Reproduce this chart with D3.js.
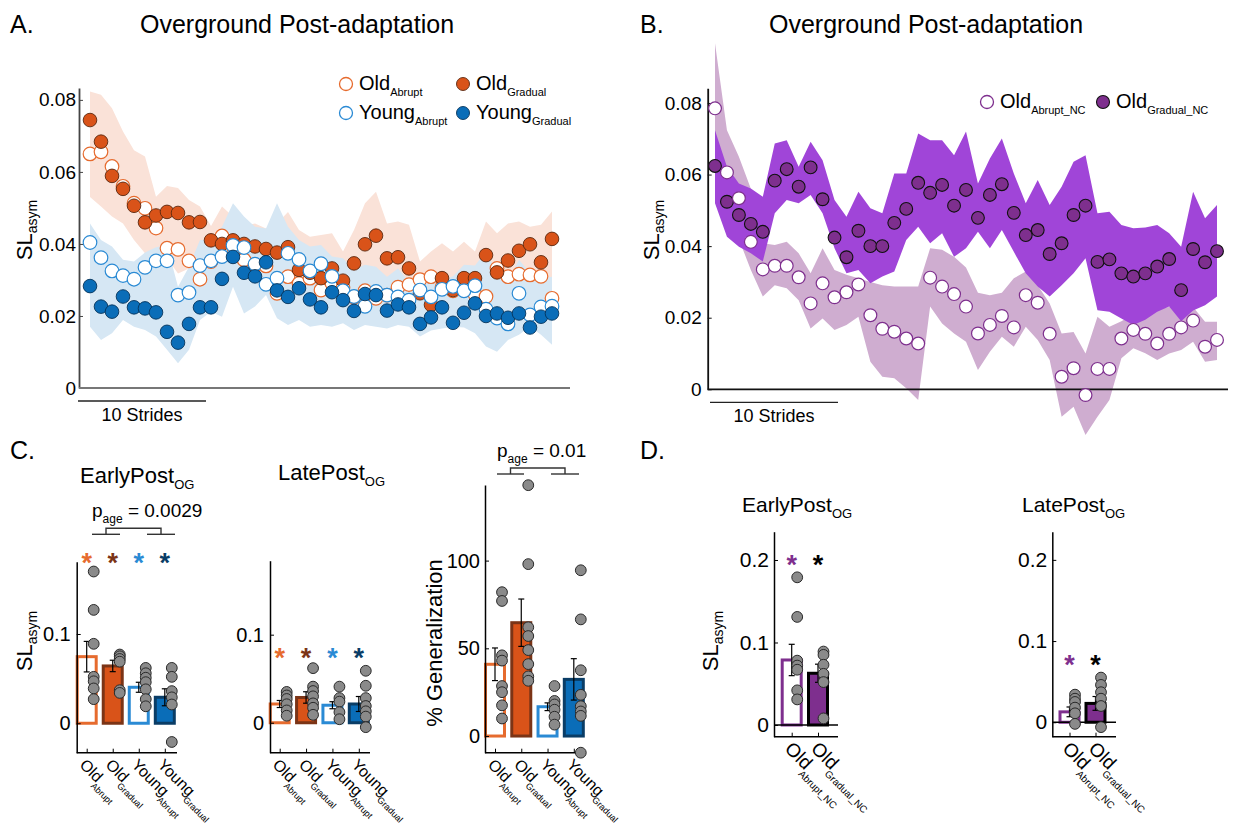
<!DOCTYPE html>
<html>
<head>
<meta charset="utf-8">
<script src="https://cdn.jsdelivr.net/npm/d3@7.9.0/dist/d3.min.js"></script>
<style>
  body { margin: 0; background: #fff; }
  svg { font-family: "Liberation Sans", Arial, sans-serif; }
</style>
</head>
<body>
<svg id="fig" width="1235" height="827"></svg>
<script>
// ---- Panel A: stride-by-stride SL asym, old/young x abrupt/gradual
const oldAbrupt = [0.065, 0.0656, 0.0615, 0.056, 0.0513, 0.0499, 0.0444, 0.0388, 0.0385, 0.0353, 0.0302, 0.0351, 0.0422, 0.037, 0.0356, 0.034, 0.0339, 0.0263, 0.0309, 0.029, 0.0305, 0.0272, 0.029, 0.028, 0.0252, 0.027, 0.0249, 0.0258, 0.028, 0.0287, 0.0301, 0.0309, 0.028, 0.027, 0.0275, 0.026, 0.0254, 0.0332, 0.0309, 0.0316, 0.0314, 0.031, 0.0249];
const oldGradual = [0.0744, 0.0684, 0.0589, 0.0553, 0.0506, 0.046, 0.0479, 0.0489, 0.0486, 0.046, 0.0461, 0.041, 0.040, 0.041, 0.040, 0.0393, 0.0386, 0.0376, 0.0391, 0.0328, 0.032, 0.0305, 0.0332, 0.0298, 0.0346, 0.0399, 0.0423, 0.036, 0.0363, 0.0332, 0.0263, 0.0231, 0.0305, 0.0272, 0.0305, 0.0305, 0.0369, 0.0321, 0.0354, 0.0381, 0.0399, 0.0349, 0.0414];
const youngAbrupt = [0.0404, 0.0362, 0.0325, 0.0312, 0.0302, 0.0335, 0.0353, 0.0353, 0.0258, 0.0265, 0.034, 0.0353, 0.0365, 0.0396, 0.039, 0.0344, 0.0288, 0.0305, 0.0374, 0.0357, 0.0325, 0.0345, 0.031, 0.027, 0.0254, 0.0227, 0.0268, 0.0258, 0.0253, 0.0244, 0.0272, 0.0253, 0.0274, 0.0282, 0.027, 0.0284, 0.0219, 0.0194, 0.0178, 0.0263, 0.0203, 0.0225, 0.0227];
const youngGradual = [0.0283, 0.0226, 0.0212, 0.0254, 0.0224, 0.0221, 0.021, 0.0156, 0.0126, 0.0178, 0.0224, 0.0224, 0.0303, 0.0364, 0.032, 0.031, 0.0349, 0.0271, 0.0253, 0.0277, 0.0246, 0.0224, 0.0266, 0.0244, 0.0214, 0.0261, 0.0258, 0.0215, 0.0232, 0.0224, 0.0178, 0.0196, 0.0224, 0.0181, 0.0209, 0.0235, 0.02, 0.0207, 0.0195, 0.0207, 0.0168, 0.0198, 0.0207];
const oldBandHi = [0.0823, 0.0814, 0.0777, 0.0712, 0.066, 0.0643, 0.0531, 0.0561, 0.0555, 0.0522, 0.0504, 0.045, 0.0504, 0.0476, 0.045, 0.0457, 0.0443, 0.0457, 0.0489, 0.0439, 0.042, 0.0425, 0.043, 0.0379, 0.0439, 0.0513, 0.0545, 0.0457, 0.0462, 0.0453, 0.0351, 0.0379, 0.0402, 0.0379, 0.0406, 0.0379, 0.0462, 0.043, 0.0457, 0.0462, 0.0448, 0.0453, 0.049];
const oldBandLo = [0.053, 0.0504, 0.0476, 0.0457, 0.0411, 0.0374, 0.037, 0.036, 0.0318, 0.0332, 0.0346, 0.034, 0.035, 0.034, 0.033, 0.032, 0.031, 0.03, 0.031, 0.029, 0.028, 0.027, 0.028, 0.026, 0.027, 0.029, 0.03, 0.028, 0.028, 0.027, 0.024, 0.023, 0.026, 0.025, 0.026, 0.026, 0.028, 0.027, 0.028, 0.029, 0.029, 0.028, 0.03];
const youngBandHi = [0.0457, 0.0411, 0.0393, 0.0356, 0.0351, 0.0376, 0.0391, 0.0397, 0.0281, 0.0337, 0.0411, 0.0411, 0.0448, 0.0513, 0.0476, 0.0448, 0.0443, 0.0513, 0.0448, 0.0411, 0.0393, 0.0397, 0.0365, 0.036, 0.0328, 0.0342, 0.0337, 0.0309, 0.0332, 0.0295, 0.0291, 0.0295, 0.03, 0.031, 0.0342, 0.034, 0.0379, 0.0319, 0.03, 0.0356, 0.0319, 0.0305, 0.0309];
const youngBandLo = [0.017, 0.0133, 0.0152, 0.0189, 0.017, 0.0161, 0.0143, 0.0106, 0.0069, 0.0106, 0.0189, 0.0212, 0.0198, 0.0281, 0.0207, 0.0226, 0.0258, 0.0194, 0.0175, 0.0189, 0.017, 0.0175, 0.017, 0.018, 0.0161, 0.0175, 0.017, 0.0165, 0.0175, 0.017, 0.0143, 0.016, 0.0165, 0.017, 0.0168, 0.0152, 0.0115, 0.0101, 0.0133, 0.0148, 0.017, 0.0148, 0.012];

// ---- Panel B: old adults, no catch
const ncAbrupt = [0.0785, 0.0606, 0.0534, 0.0412, 0.0335, 0.0345, 0.0345, 0.0313, 0.024, 0.0296, 0.0257, 0.0271, 0.0293, 0.0207, 0.0169, 0.0161, 0.0142, 0.0128, 0.0312, 0.0287, 0.0266, 0.0231, 0.0156, 0.018, 0.0205, 0.0173, 0.0263, 0.0242, 0.0155, 0.0035, 0.0059, -0.0016, 0.0057, 0.0057, 0.0142, 0.0166, 0.0155, 0.0128, 0.0155, 0.0173, 0.0192, 0.0119, 0.0138];
const ncGradual = [0.0624, 0.0524, 0.0487, 0.0462, 0.044, 0.0583, 0.0615, 0.0566, 0.062, 0.0531, 0.0424, 0.0369, 0.0443, 0.04, 0.04, 0.0465, 0.0504, 0.0577, 0.0549, 0.0571, 0.0513, 0.0557, 0.0479, 0.0543, 0.0573, 0.0493, 0.0431, 0.0445, 0.0378, 0.0408, 0.0487, 0.0513, 0.0356, 0.0363, 0.0324, 0.0315, 0.0324, 0.0343, 0.0364, 0.0277, 0.0392, 0.0355, 0.0386];
const ncAbrBandHi = [0.0967, 0.0724, 0.065, 0.056, 0.0408, 0.0403, 0.0412, 0.038, 0.0324, 0.0394, 0.0333, 0.032, 0.031, 0.030, 0.0291, 0.0287, 0.0287, 0.0287, 0.0394, 0.039, 0.037, 0.034, 0.027, 0.0263, 0.027, 0.031, 0.0329, 0.0291, 0.024, 0.0156, 0.016, 0.01, 0.0203, 0.0175, 0.019, 0.021, 0.022, 0.0225, 0.023, 0.023, 0.023, 0.0189, 0.0189];
const ncAbrBandLo = [0.06, 0.05, 0.042, 0.0333, 0.0259, 0.0291, 0.0282, 0.0249, 0.017, 0.0198, 0.0166, 0.018, 0.0203, 0.0077, 0.0035, 0.0031, 0.0003, -0.003, 0.0231, 0.0184, 0.0156, 0.0133, 0.0054, 0.0105, 0.0147, 0.0119, 0.0175, 0.0138, 0.0082, -0.0077, -0.0049, -0.0128, -0.0077, -0.003, 0.0087, 0.0115, 0.0101, 0.0082, 0.01, 0.011, 0.0133, 0.0077, 0.0082];
const ncGradBandHi = [0.0724, 0.0622, 0.0575, 0.0561, 0.0538, 0.0687, 0.0696, 0.0622, 0.0692, 0.064, 0.0529, 0.0482, 0.0552, 0.0506, 0.0492, 0.0603, 0.0603, 0.0715, 0.0696, 0.0696, 0.0654, 0.072, 0.0575, 0.0645, 0.0701, 0.0603, 0.052, 0.0585, 0.0515, 0.0566, 0.0636, 0.0654, 0.0492, 0.0496, 0.0459, 0.045, 0.0452, 0.0459, 0.0436, 0.0398, 0.0552, 0.0478, 0.0515];
const ncGradBandLo = [0.052, 0.0426, 0.0398, 0.038, 0.0357, 0.0492, 0.0529, 0.052, 0.0543, 0.0492, 0.0394, 0.0324, 0.0333, 0.0296, 0.0315, 0.0329, 0.0417, 0.0454, 0.0408, 0.0436, 0.037, 0.0394, 0.044, 0.0394, 0.0445, 0.0384, 0.0324, 0.0287, 0.0259, 0.0291, 0.0324, 0.0366, 0.0221, 0.0217, 0.0198, 0.018, 0.0194, 0.0217, 0.0231, 0.019, 0.022, 0.0235, 0.0259];

// ---- Panel C: group bars
const groupNames = ["Old", "Old", "Young", "Young"];
const groupSubs = ["Abrupt", "Gradual", "Abrupt", "Gradual"];
const earlyMeans = [0.0746, 0.0642, 0.0403, 0.0291];
const earlySE = [0.0171, 0.0064, 0.0056, 0.0095];
const earlyDots = [
  [0.170, 0.127, 0.089, 0.052, 0.047, 0.039, 0.027],
  [0.077, 0.075, 0.072, 0.069, 0.037, 0.034],
  [0.062, 0.056, 0.051, 0.046, 0.038, 0.027, 0.019],
  [0.062, 0.052, 0.036, 0.029, 0.021, -0.021]
];
const lateMeans = [0.0213, 0.0287, 0.0199, 0.0213];
const lateSE = [0.004, 0.0065, 0.004, 0.0085];
const lateDots = [
  [0.035, 0.031, 0.027, 0.021, 0.014, 0.008],
  [0.062, 0.041, 0.036, 0.030, 0.022, 0.017, 0.009],
  [0.041, 0.028, 0.024, 0.012, 0.004],
  [0.059, 0.042, 0.028, 0.019, 0.013, 0.007, -0.005]
];
const genMeans = [40.9, 64.6, 16.7, 32.3];
const genSE = [9.3, 13.5, 2.2, 11.8];
const genDots = [
  [82, 77, 46, 43, 28.5, 25, 17.5, 10],
  [143, 98, 62, 57, 49, 41, 34, 31.5],
  [28.5, 20, 18, 15, 11, 6.5],
  [94.5, 66.5, 37.5, 23.5, 17, 14, 11.5, -9.5]
];

// ---- Panel D: no-catch bars
const ncNames = ["Old", "Old"];
const ncSubs = ["Abrupt_NC", "Gradual_NC"];
const ncEarlyMeans = [0.0788, 0.0627];
const ncEarlySE = [0.019, 0.011];
const ncEarlyDots = [
  [0.179, 0.131, 0.078, 0.072, 0.067, 0.042, 0.031],
  [0.089, 0.085, 0.073, 0.062, 0.052, 0.008]
];
const ncLateMeans = [0.0128, 0.0232];
const ncLateSE = [0.006, 0.0085];
const ncLateDots = [
  [0.034, 0.029, 0.025, 0.018, 0.011, -0.002],
  [0.055, 0.046, 0.037, 0.029, 0.02, -0.006]
];

// colours
const cOrange = "#e66b2e", cOrangeFill = "#d95319", cBrown = "#7b3416";
const cBlue = "#2a8ad4", cBlueFill = "#0a6db8", cNavy = "#0a3d66";
const cPurple = "#7e2f8e";
const groupStroke = [cOrange, cBrown, cBlue, cNavy];
const groupFill = ["#fff", cOrangeFill, "#fff", cBlueFill];

const svg = d3.select("#fig");

// text with a subscript part
function subText(g, x, y, main, sub, size, subSize, opt = {}) {
  const t = g.append("text")
    .attr("x", x).attr("y", y)
    .attr("font-size", size)
    .attr("fill", opt.fill || "#000");
  if (opt.anchor) t.attr("text-anchor", opt.anchor);
  if (opt.transform) t.attr("transform", opt.transform);
  t.append("tspan").text(main);
  t.append("tspan")
    .attr("font-size", subSize)
    .attr("dx", opt.subDx || 0)
    .attr("dy", opt.subDy != null ? opt.subDy : size * 0.3)
    .text(sub);
  return t;
}

function styleAxis(a, size) {
  a.attr("font-family", null).attr("font-size", size);
  a.selectAll("text").attr("fill", "#000");
}

// ---------- time-course panels ----------
function timePanel(cfg) {
  const g = svg.append("g");
  const n = cfg.series[0].values.length;
  const x = d3.scaleLinear().domain([0, n - 1]).range(cfg.xRange);
  const y = d3.scaleLinear().domain(cfg.yDomain).range(cfg.yRange);

  cfg.bands.forEach(b => {
    const area = d3.area()
      .x((d, i) => x(i))
      .y0((d, i) => y(b.lo[i]))
      .y1(d => y(d));
    g.append("path").datum(b.hi).attr("d", area).attr("fill", b.color);
  });

  const ax = g.append("g")
    .attr("transform", `translate(${cfg.axisX},0)`)
    .call(d3.axisLeft(y).tickValues([0, 0.02, 0.04, 0.06, 0.08])
      .tickFormat(d => String(d)).tickSize(-4).tickSizeOuter(0).tickPadding(cfg.pad));
  styleAxis(ax, 19);
  ax.select(".domain").attr("stroke", cfg.yAxisColor).attr("stroke-width", 1.8);
  ax.selectAll(".tick line").attr("stroke", cfg.yAxisColor);

  g.append("line")
    .attr("x1", cfg.axisX).attr("x2", cfg.xEnd)
    .attr("y1", y(0)).attr("y2", y(0))
    .attr("stroke", cfg.xAxisColor).attr("stroke-width", 1.8);

  // scale bar
  g.append("line")
    .attr("x1", cfg.bar[0]).attr("x2", cfg.bar[1])
    .attr("y1", y(0) + 13).attr("y2", y(0) + 13)
    .attr("stroke", "#222").attr("stroke-width", 1.3);
  g.append("text")
    .attr("x", (cfg.bar[0] + cfg.bar[1]) / 2).attr("y", y(0) + 33)
    .attr("text-anchor", "middle").attr("font-size", 18)
    .text("10 Strides");

  subText(g, 0, 0, "SL", "asym", 22, 14, {
    anchor: "middle", transform: `translate(${cfg.labelX},${cfg.labelY}) rotate(-90)`, subDy: 5
  });

  cfg.series.forEach(s => {
    g.append("g").selectAll("circle")
      .data(s.values)
      .join("circle")
      .attr("cx", (d, i) => x(i))
      .attr("cy", d => y(d))
      .attr("r", cfg.r)
      .attr("fill", s.fill)
      .attr("stroke", s.stroke)
      .attr("stroke-width", s.sw);
  });

  // legend
  cfg.legend.forEach(l => {
    g.append("circle").attr("cx", l.cx).attr("cy", l.cy).attr("r", 6.5)
      .attr("fill", l.fill).attr("stroke", l.stroke).attr("stroke-width", l.sw);
    subText(g, l.cx + 13, l.cy + 6, l.main, l.sub, 20, 11, { subDy: 6 });
  });
}

timePanel({
  xRange: [90, 552], yDomain: [0, 0.0833], yRange: [388, 88],
  axisX: 79, xEnd: 570, pad: 3, yAxisColor: "#444", xAxisColor: "#777",
  bar: [78, 206], labelX: 32, labelY: 230, r: 6.8,
  bands: [
    { hi: oldBandHi, lo: oldBandLo, color: "#fae2d8" },
    { hi: youngBandHi, lo: youngBandLo, color: "#d6e7f4" }
  ],
  series: [
    { values: oldAbrupt, fill: "#fff", stroke: cOrange, sw: 1.2 },
    { values: oldGradual, fill: cOrangeFill, stroke: "#5a2810", sw: 0.9 },
    { values: youngAbrupt, fill: "#fff", stroke: cBlue, sw: 1.2 },
    { values: youngGradual, fill: cBlueFill, stroke: "#06335a", sw: 0.9 }
  ],
  legend: [
    { cx: 346, cy: 84, fill: "#fff", stroke: cOrange, sw: 1.3, main: "Old", sub: "Abrupt" },
    { cx: 463, cy: 84, fill: cOrangeFill, stroke: "#5a2810", sw: 0.9, main: "Old", sub: "Gradual" },
    { cx: 346, cy: 113, fill: "#fff", stroke: cBlue, sw: 1.3, main: "Young", sub: "Abrupt" },
    { cx: 463, cy: 113, fill: cBlueFill, stroke: "#06335a", sw: 0.9, main: "Young", sub: "Gradual" }
  ]
});

timePanel({
  xRange: [715, 1217], yDomain: [0, 0.0841], yRange: [389.3, 88.3],
  axisX: 707.7, xEnd: 1228, pad: 6, yAxisColor: "#111", xAxisColor: "#111",
  bar: [710, 838], labelX: 659, labelY: 230, r: 6.4,
  bands: [
    { hi: ncAbrBandHi, lo: ncAbrBandLo, color: "#cfadd0" },
    { hi: ncGradBandHi, lo: ncGradBandLo, color: "#a045d8" }
  ],
  series: [
    { values: ncGradual, fill: cPurple, stroke: "#111", sw: 1.1 },
    { values: ncAbrupt, fill: "#fff", stroke: cPurple, sw: 1.2 }
  ],
  legend: [
    { cx: 987, cy: 102, fill: "#fff", stroke: cPurple, sw: 1.3, main: "Old", sub: "Abrupt_NC" },
    { cx: 1103, cy: 102, fill: cPurple, stroke: "#111", sw: 1.1, main: "Old", sub: "Gradual_NC" }
  ]
});

// ---------- bar panels ----------
function barPanel(cfg) {
  const g = svg.append("g");
  const idx = d3.range(cfg.means.length);
  const x = d3.scalePoint().domain(idx).range(cfg.xRange);
  const y = d3.scaleLinear().domain(cfg.yDomain).range(cfg.yRange);
  const y0 = cfg.yRange[0];

  // bars
  g.selectAll("rect.bar").data(cfg.means).join("rect")
    .attr("x", (d, i) => x(i) - cfg.bw / 2)
    .attr("y", d => y(Math.max(0, d)))
    .attr("width", cfg.bw)
    .attr("height", d => Math.abs(y(d) - y(0)))
    .attr("fill", (d, i) => cfg.fills[i])
    .attr("stroke", (d, i) => cfg.strokes[i])
    .attr("stroke-width", 3);

  if (cfg.zeroLine) {
    g.append("line")
      .attr("x1", cfg.axisX).attr("x2", cfg.xEnd)
      .attr("y1", y(0)).attr("y2", y(0))
      .attr("stroke", "#000").attr("stroke-width", 1.5);
  }

  // axes
  const ax = g.append("g")
    .attr("transform", `translate(${cfg.axisX},0)`)
    .call(d3.axisLeft(y).tickValues(cfg.ticks).tickFormat(d => String(d))
      .tickSize(-4).tickSizeOuter(0).tickPadding(cfg.pad));
  styleAxis(ax, cfg.tickFont);
  ax.select(".domain").attr("stroke", "#000").attr("stroke-width", 1.5);
  ax.selectAll(".tick line").attr("stroke", "#000");

  g.append("line")
    .attr("x1", cfg.axisX).attr("x2", cfg.xEnd)
    .attr("y1", y0).attr("y2", y0)
    .attr("stroke", "#000").attr("stroke-width", 1.5);
  g.append("g")
    .attr("transform", `translate(0,${y0})`)
    .call(d3.axisBottom(x).tickSize(-4).tickSizeOuter(0).tickFormat(""))
    .call(a => a.select(".domain").remove())
    .call(a => a.selectAll(".tick line").attr("stroke", "#000"));

  // error bars
  const eb = g.append("g").attr("stroke", "#000").attr("stroke-width", 1.2);
  cfg.means.forEach((m, i) => {
    const cx = x(i);
    eb.append("line").attr("x1", cx).attr("x2", cx).attr("y1", y(m - cfg.se[i])).attr("y2", y(m + cfg.se[i]));
    eb.append("line").attr("x1", cx - 3).attr("x2", cx + 3).attr("y1", y(m - cfg.se[i])).attr("y2", y(m - cfg.se[i]));
    eb.append("line").attr("x1", cx - 3).attr("x2", cx + 3).attr("y1", y(m + cfg.se[i])).attr("y2", y(m + cfg.se[i]));
  });

  // individual subjects
  cfg.dots.forEach((vals, i) => {
    g.append("g").selectAll("circle").data(vals).join("circle")
      .attr("cx", x(i) + cfg.dotDx)
      .attr("cy", d => y(d))
      .attr("r", 5.4)
      .attr("fill", "#8a8a8a")
      .attr("stroke", "#2a2a2a")
      .attr("stroke-width", 1);
  });

  // significance stars
  if (cfg.starLevel != null) {
    cfg.means.forEach((m, i) => {
      g.append("text")
        .attr("x", x(i)).attr("y", y(cfg.starLevel) + 15)
        .attr("text-anchor", "middle")
        .attr("font-size", 27).attr("font-weight", "bold")
        .attr("fill", cfg.starColors[i])
        .text("*");
    });
  }

  // rotated category labels
  cfg.names.forEach((nm, i) => {
    subText(g, 0, 0, nm, cfg.subs[i], cfg.labFont, cfg.subFont, {
      transform: `translate(${x(i) - 8},${y0 + 13}) rotate(45)`,
      subDx: -2, subDy: cfg.labFont * 0.4
    });
  });

  if (cfg.title) {
    subText(g, cfg.title.x, cfg.title.y, cfg.title.main, "OG", cfg.title.size, 13, { subDy: 6 });
  }
  if (cfg.ylabel) {
    const t = g.append("text").attr("font-size", 22).attr("text-anchor", "middle")
      .attr("transform", `translate(${cfg.ylabel.x},${cfg.ylabel.y}) rotate(-90)`);
    t.append("tspan").text(cfg.ylabel.main);
    if (cfg.ylabel.sub) t.append("tspan").attr("font-size", 14).attr("dy", 5).text(cfg.ylabel.sub);
  }
  if (cfg.stat) {
    const s = cfg.stat;
    subText(g, s.x, s.y, "p", "age", 19, 12, { subDy: 6 })
      .append("tspan").attr("font-size", 19).attr("dy", -6).text(" = " + s.p);
    const br = g.append("g").attr("stroke", "#333").attr("stroke-width", 1.4).attr("fill", "none");
    const [a, b] = s.segs;
    br.append("line").attr("x1", a[0]).attr("x2", a[1]).attr("y1", s.by).attr("y2", s.by);
    br.append("line").attr("x1", b[0]).attr("x2", b[1]).attr("y1", s.by).attr("y2", s.by);
    const m1 = (a[0] + a[1]) / 2, m2 = (b[0] + b[1]) / 2;
    br.append("path").attr("d", `M${m1},${s.by} V${s.by - 6} H${m2} V${s.by}`);
  }
}

barPanel({
  means: earlyMeans, se: earlySE, dots: earlyDots,
  xRange: [86.7, 164.8], yDomain: [-0.033, 0.181], yRange: [752.7, 561.7],
  axisX: 76.7, xEnd: 177, ticks: [0, 0.1], pad: 6, tickFont: 20,
  bw: 19, dotDx: 7, fills: groupFill, strokes: groupStroke,
  starLevel: 0.1866, starColors: groupStroke,
  names: groupNames, subs: groupSubs, labFont: 16, subFont: 9,
  title: { x: 80, y: 483, main: "EarlyPost", size: 22 },
  ylabel: { x: 32, y: 641, main: "SL", sub: "asym" },
  stat: { x: 92, y: 517, p: "0.0029", by: 534.3, segs: [[92, 120], [147, 175]] }
});

barPanel({
  means: lateMeans, se: lateSE, dots: lateDots,
  xRange: [279.7, 358.8], yDomain: [-0.034, 0.184], yRange: [752.7, 560.7],
  axisX: 270, xEnd: 370, ticks: [0, 0.1], pad: 6, tickFont: 20,
  bw: 19, dotDx: 7, fills: groupFill, strokes: groupStroke,
  starLevel: 0.08, starColors: groupStroke,
  names: groupNames, subs: groupSubs, labFont: 16, subFont: 9,
  title: { x: 278, y: 480, main: "LatePost", size: 22 }
});

barPanel({
  means: genMeans, se: genSE, dots: genDots,
  xRange: [495, 573.8], yDomain: [-9.5, 143.1], yRange: [752.7, 485],
  axisX: 485, xEnd: 586, ticks: [0, 50, 100], pad: 5, tickFont: 20,
  bw: 19, dotDx: 7, fills: groupFill, strokes: groupStroke,
  names: groupNames, subs: groupSubs, labFont: 16, subFont: 9,
  ylabel: { x: 442, y: 643, main: "% Generalization" },
  stat: { x: 497, y: 457, p: "0.01", by: 474, segs: [[497, 524], [551, 579]] }
});

barPanel({
  means: ncEarlyMeans, se: ncEarlySE, dots: ncEarlyDots,
  xRange: [791.7, 818], yDomain: [-0.0142, 0.2343], yRange: [736.7, 531.7],
  axisX: 774, xEnd: 838, ticks: [0, 0.1, 0.2], pad: 5, tickFont: 21, zeroLine: true,
  bw: 19, dotDx: 5.5, fills: ["#fff", cPurple], strokes: [cPurple, "#000"],
  starLevel: 0.201, starColors: [cPurple, "#000"],
  names: ncNames, subs: ncSubs, labFont: 19, subFont: 10,
  title: { x: 742, y: 512, main: "EarlyPost", size: 21 },
  ylabel: { x: 718, y: 641, main: "SL", sub: "asym" }
});

barPanel({
  means: ncLateMeans, se: ncLateSE, dots: ncLateDots,
  xRange: [1069.5, 1095.5], yDomain: [-0.0178, 0.2347], yRange: [736.7, 531.7],
  axisX: 1052.3, xEnd: 1116, ticks: [0, 0.1, 0.2], pad: 5, tickFont: 21, zeroLine: true,
  bw: 19, dotDx: 5.5, fills: ["#fff", cPurple], strokes: [cPurple, "#000"],
  starLevel: 0.078, starColors: [cPurple, "#000"],
  names: ncNames, subs: ncSubs, labFont: 19, subFont: 10,
  title: { x: 1022, y: 512, main: "LatePost", size: 21 }
});

// panel letters and titles
const labels = [
  { t: "A.", x: 10, y: 33 }, { t: "B.", x: 640, y: 33 },
  { t: "C.", x: 10, y: 459 }, { t: "D.", x: 640, y: 459 }
];
svg.selectAll("text.panel").data(labels).join("text")
  .attr("class", "panel")
  .attr("x", d => d.x).attr("y", d => d.y)
  .attr("font-size", 25).text(d => d.t);
svg.selectAll("text.ptitle").data([297, 926]).join("text")
  .attr("class", "ptitle")
  .attr("x", d => d).attr("y", 33)
  .attr("text-anchor", "middle").attr("font-size", 25)
  .text("Overground Post-adaptation");
</script>
</body>
</html>
